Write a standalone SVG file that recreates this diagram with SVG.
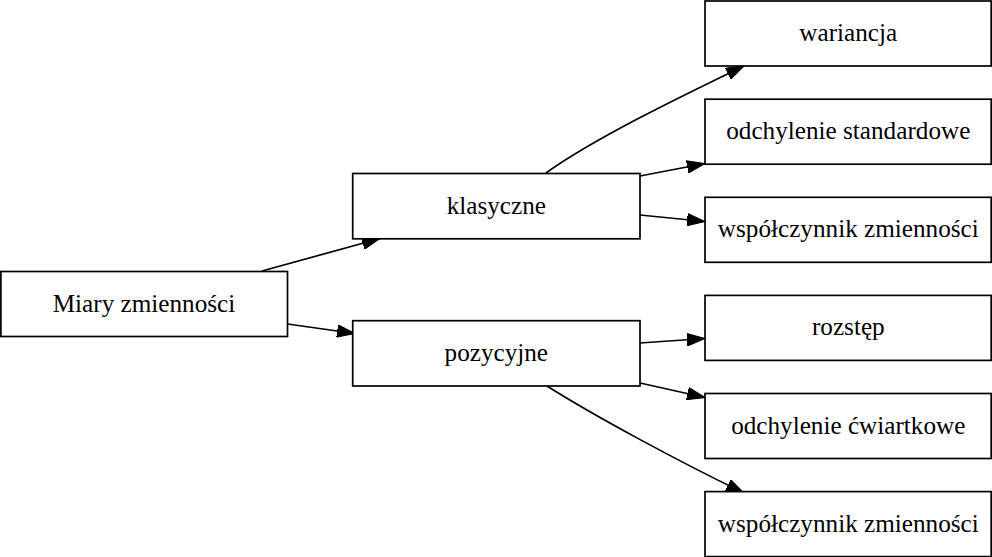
<svg xmlns="http://www.w3.org/2000/svg" width="992" height="557" viewBox="0 0 992 557">
<style>
.node rect{fill:#fff;stroke:#000;stroke-width:1.7}
.node text{font-family:"Liberation Serif","Times New Roman",serif;font-size:25.2px;text-anchor:middle;fill:#000}
.edges path{fill:none;stroke:#000;stroke-width:1.7}
</style>
<defs>
<marker id="ah" markerUnits="userSpaceOnUse" markerWidth="18" markerHeight="13" viewBox="0 0 18 12.6" refX="18" refY="6.3" orient="auto">
<path d="M0,0 L18,6.3 L0,12.6 Z" fill="#000" stroke="#000" stroke-width="1"/>
</marker>
</defs>
<rect width="992" height="557" fill="#fff"/>
<g class="edges">
<path d="M262,271 L380,238.5" marker-end="url(#ah)"/>
<path d="M287.5,324 L355,333.5" marker-end="url(#ah)"/>
<path d="M546,173 C595,138 682,96 744,66" marker-end="url(#ah)"/>
<path d="M640,176 L705,163.5" marker-end="url(#ah)"/>
<path d="M640,215 L705,221.5" marker-end="url(#ah)"/>
<path d="M640,343 L705,338.5" marker-end="url(#ah)"/>
<path d="M640,383 L705,397.5" marker-end="url(#ah)"/>
<path d="M547,386 C596,417 682,463 744,493" marker-end="url(#ah)"/>
</g>
<g class="node" id="miary"><rect x="0.9" y="271.5" width="286.6" height="65"/><text x="144" y="311.7">Miary zmienności</text></g>
<g class="node" id="klasyczne"><rect x="352.7" y="173.5" width="287.3" height="65.3"/><text x="496.3" y="213.5">klasyczne</text></g>
<g class="node" id="pozycyjne"><rect x="352.7" y="320.7" width="287.3" height="65.3"/><text x="496.3" y="360.8">pozycyjne</text></g>
<g class="node" id="wariancja"><rect x="705" y="1" width="286.2" height="65"/><text x="848.3" y="41">wariancja</text></g>
<g class="node" id="odch_std"><rect x="705" y="99.2" width="286.2" height="65"/><text x="848.3" y="139.2">odchylenie standardowe</text></g>
<g class="node" id="wsp1"><rect x="705" y="197.3" width="286.2" height="65"/><text x="848.3" y="237.3">współczynnik zmienności</text></g>
<g class="node" id="rozstep"><rect x="705" y="295.4" width="286.2" height="65"/><text x="848.3" y="335.4">rozstęp</text></g>
<g class="node" id="odch_cw"><rect x="705" y="393.5" width="286.2" height="65"/><text x="848.3" y="433.5">odchylenie ćwiartkowe</text></g>
<g class="node" id="wsp2"><rect x="705" y="491.6" width="286.2" height="65"/><text x="848.3" y="531.6">współczynnik zmienności</text></g>
</svg>
